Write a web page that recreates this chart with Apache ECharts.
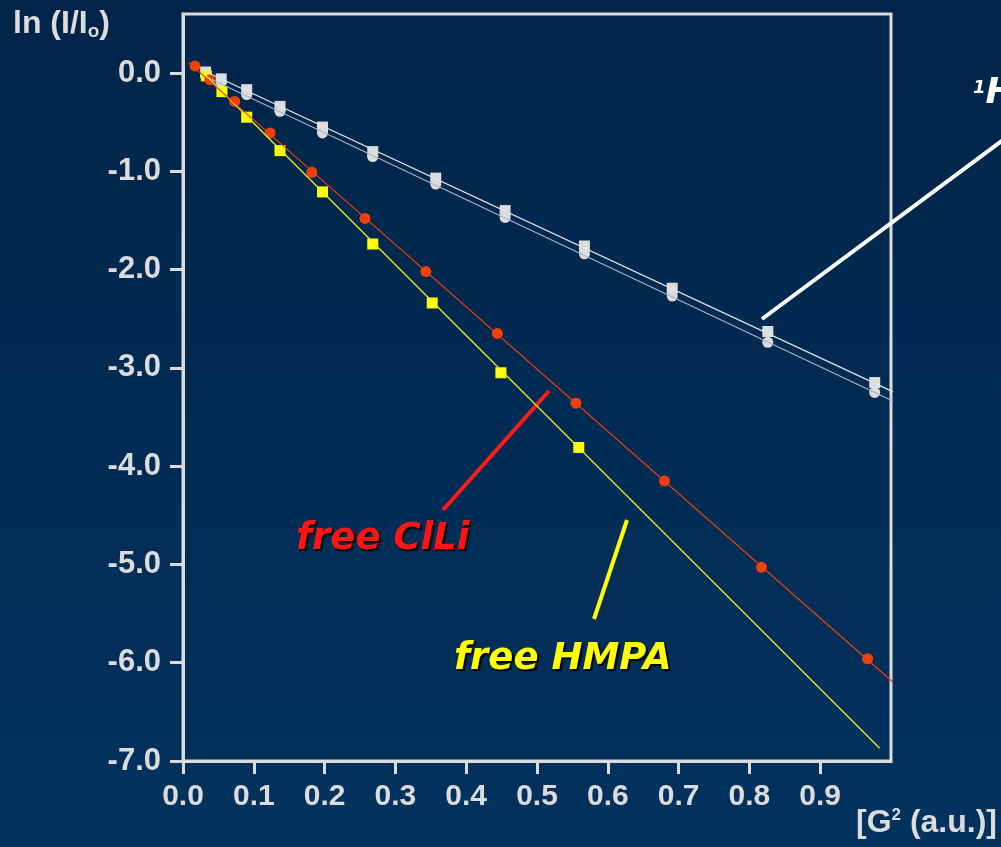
<!DOCTYPE html>
<html>
<head>
<meta charset="utf-8">
<script src="https://cdn.jsdelivr.net/npm/echarts@6/dist/echarts.min.js"></script>
<style>
  html, body { margin: 0; padding: 0; }
  #chart { width: 1001px; height: 847px; }
</style>
</head>
<body>
<div id="chart"></div>
<script>
// values
var xTicks = [0, 0.1, 0.2, 0.3, 0.4, 0.5, 0.6, 0.7, 0.8, 0.9];
var yTicks = [-7, -6, -5, -4, -3, -2, -1, 0];

var clliX = [0.017, 0.038, 0.073, 0.123, 0.182, 0.257, 0.343, 0.444, 0.555, 0.680, 0.817, 0.967];
var clliY = [0.07, -0.07, -0.29, -0.61, -1.01, -1.48, -2.02, -2.65, -3.36, -4.15, -5.03, -5.96];

var hmpaX = [0.033, 0.055, 0.090, 0.137, 0.197, 0.268, 0.352, 0.449, 0.559];
var hmpaY = [-0.03, -0.19, -0.45, -0.79, -1.21, -1.74, -2.34, -3.05, -3.81];

var grayX = [0.032, 0.054, 0.090, 0.137, 0.197, 0.268, 0.357, 0.455, 0.567, 0.691, 0.826, 0.977];
var graySqY = [0.01, -0.06, -0.17, -0.34, -0.55, -0.80, -1.07, -1.40, -1.76, -2.19, -2.63, -3.15];
var grayCiY = [-0.03, -0.09, -0.22, -0.39, -0.61, -0.85, -1.13, -1.47, -1.84, -2.27, -2.74, -3.25];

// fitted lines (end points)
var clliFit = [[0.007, 0.11], [1.008, -6.23]];
var hmpaFit = [[0.026, 0.02], [0.984, -6.87]];
var graySqFit = [[0.03, 0.02], [1.014, -3.28]];
var grayCiFit = [[0.03, -0.03], [1.018, -3.39]];

function pairs(xs, ys) {
  return xs.map(function (x, i) { return [x, ys[i]]; });
}

var axisCol = '#dcdcdc';
var font = "'Liberation Sans', Arial, sans-serif";
var hand = "'DejaVu Sans', sans-serif";

var chart = echarts.init(document.getElementById('chart'));
chart.setOption({
  backgroundColor: {
    type: 'linear', x: 0, y: 0, x2: 0, y2: 1,
    colorStops: [{ offset: 0, color: '#012448' }, { offset: 1, color: '#02325f' }]
  },
  animation: false,
  grid: {
    left: 183, right: 110, top: 14, bottom: 86,
    show: true, borderColor: axisCol, borderWidth: 3
  },
  xAxis: {
    type: 'value', min: 0, max: 1.0,
    axisLine: { onZero: false, lineStyle: { color: axisCol, width: 3 } },
    axisTick: { customValues: xTicks, length: 13, lineStyle: { color: axisCol, width: 3 } },
    axisLabel: {
      customValues: xTicks, margin: 21, color: axisCol, fontSize: 30, fontWeight: 'bold', fontFamily: font,
      formatter: function (v) { return v.toFixed(1); }
    },
    splitLine: { show: false }
  },
  yAxis: {
    type: 'value', min: -7, max: 0.6,
    axisLine: { onZero: false, lineStyle: { color: axisCol, width: 3 } },
    axisTick: { customValues: yTicks, length: 13, lineStyle: { color: axisCol, width: 3 } },
    axisLabel: {
      customValues: yTicks, margin: 22, color: axisCol, fontSize: 31, fontWeight: 'bold', fontFamily: font,
      formatter: function (v) { return v.toFixed(1); }
    },
    splitLine: { show: false }
  },
  series: [
    { type: 'line', data: graySqFit, symbol: 'none', clip: false, lineStyle: { color: '#e4e4e4', width: 1.3 } },
    { type: 'line', data: grayCiFit, symbol: 'none', clip: false, lineStyle: { color: '#a9b3c4', width: 1.1 } },
    { type: 'scatter', data: pairs(grayX, grayCiY), symbol: 'circle', symbolSize: 11, itemStyle: { color: '#dcdcdc', opacity: 1 } },
    { type: 'scatter', data: pairs(grayX, graySqY), symbol: 'rect', symbolSize: 11, itemStyle: { color: '#dcdcdc', opacity: 1 } },
    { type: 'line', data: hmpaFit, symbol: 'none', clip: false, lineStyle: { color: '#f0f028', width: 1.2 } },
    { type: 'scatter', data: pairs(hmpaX, hmpaY), symbol: 'rect', symbolSize: 11, itemStyle: { color: '#ffff00', opacity: 1 } },
    { type: 'line', data: clliFit, symbol: 'none', clip: false, lineStyle: { color: '#e8400c', width: 1.2 } },
    { type: 'scatter', data: pairs(clliX, clliY), symbol: 'circle', symbolSize: 11, itemStyle: { color: '#f0400a', opacity: 1 } }
  ],
  graphic: [
    {
      type: 'text', left: 13, top: 8,
      style: {
        text: '{a|ln (I/I}{s|o}{a|)}',
        rich: {
          a: { fontSize: 32, fontWeight: 'bold', fontFamily: font, fill: axisCol },
          s: { fontSize: 19, fontWeight: 'bold', fontFamily: font, fill: axisCol, padding: [16, 0, 0, 0] }
        }
      }
    },
    {
      type: 'text', right: 4, top: 807,
      style: {
        text: '{a|[G}{s|2}{a| (a.u.)]}',
        rich: {
          a: { fontSize: 32, fontWeight: 'bold', fontFamily: font, fill: axisCol },
          s: { fontSize: 17, fontWeight: 'bold', fontFamily: font, fill: axisCol, padding: [0, 0, 15, 0] }
        }
      }
    },
    { type: 'line', shape: { x1: 443, y1: 510, x2: 549, y2: 391 }, style: { stroke: '#ff1a1a', lineWidth: 4 } },
    { type: 'line', shape: { x1: 594, y1: 619, x2: 627, y2: 520 }, style: { stroke: '#ffff00', lineWidth: 4 } },
    { type: 'line', shape: { x1: 762, y1: 319, x2: 1003, y2: 140 }, style: { stroke: '#ffffff', lineWidth: 4 } },
    {
      type: 'text', left: 296, top: 521,
      style: {
        text: 'free ClLi', fill: '#ff1414', fontSize: 37, fontWeight: 'bold', fontStyle: 'italic',
        fontFamily: hand,
        textShadowColor: '#000000', textShadowOffsetX: 2, textShadowOffsetY: 2, textShadowBlur: 1
      }
    },
    {
      type: 'text', left: 454, top: 641,
      style: {
        text: 'free HMPA', fill: '#ffff00', fontSize: 37, fontWeight: 'bold', fontStyle: 'italic',
        fontFamily: hand,
        textShadowColor: '#000000', textShadowOffsetX: 2, textShadowOffsetY: 2, textShadowBlur: 1
      }
    },
    {
      type: 'text', left: 973, top: 76,
      style: {
        text: '{s|1}{a|H}',
        rich: {
          s: { fontSize: 18, fontWeight: 'bold', fontStyle: 'italic', fontFamily: hand, fill: '#ffffff', padding: [0, 0, 12, 0], textShadowColor: '#000', textShadowOffsetX: 2, textShadowOffsetY: 2 },
          a: { fontSize: 36, fontWeight: 'bold', fontStyle: 'italic', fontFamily: hand, fill: '#ffffff', textShadowColor: '#000', textShadowOffsetX: 2, textShadowOffsetY: 2 }
        }
      }
    }
  ]
});
</script>
</body>
</html>
